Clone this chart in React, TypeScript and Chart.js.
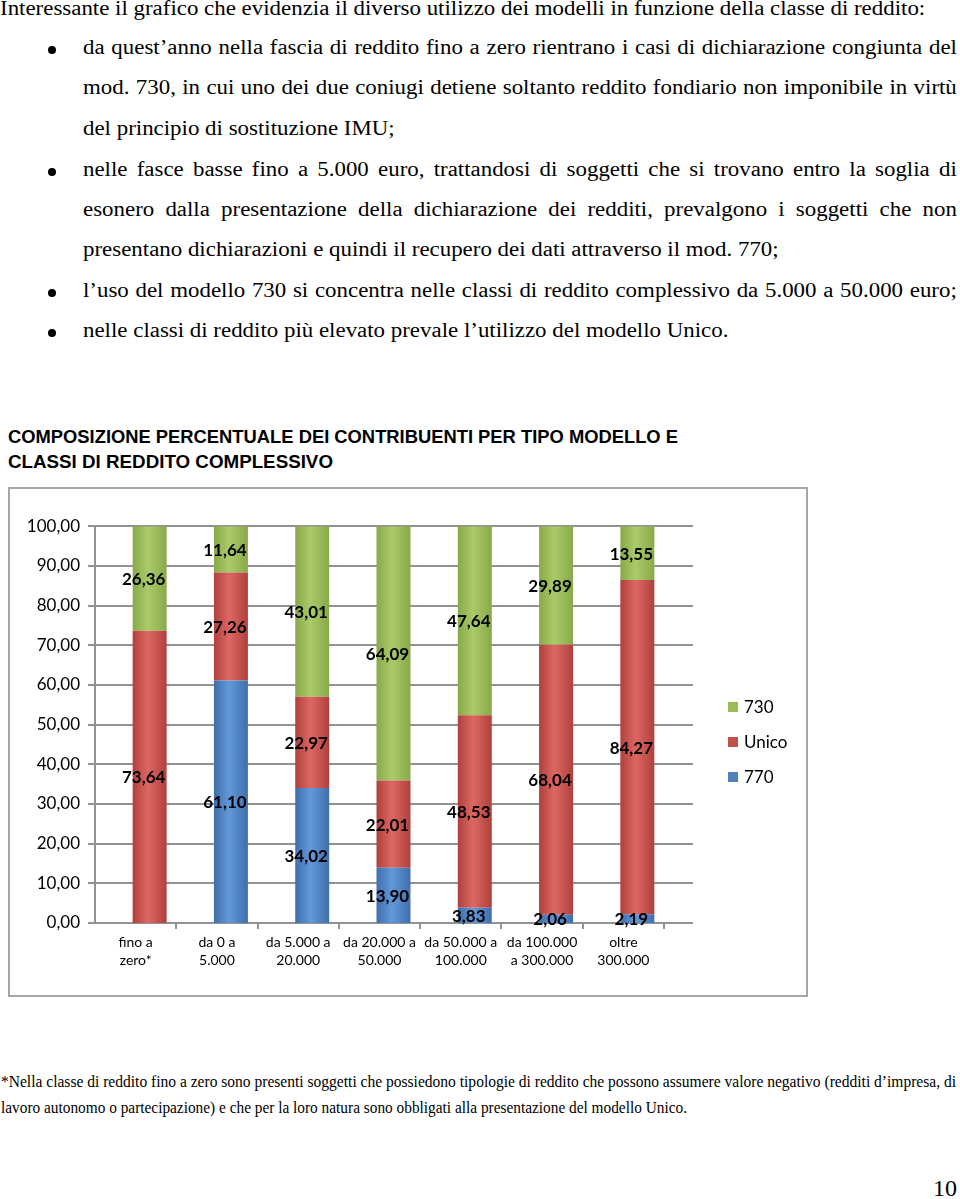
import React, { useEffect, useRef } from "react";
import { Chart, registerables } from "chart.js";
Chart.register(...registerables);

// ---------- DATA ----------
const categories: string[][] = [
  ["fino a", "zero*"],
  ["da 0 a", "5.000"],
  ["da 5.000 a", "20.000"],
  ["da 20.000 a", "50.000"],
  ["da 50.000 a", "100.000"],
  ["da 100.000", "a 300.000"],
  ["oltre", "300.000"],
];
const values770 = [0, 61.1, 34.02, 13.9, 3.83, 2.06, 2.19];
const valuesUnico = [73.64, 27.26, 22.97, 22.01, 48.53, 68.04, 84.27];
const values730 = [26.36, 11.64, 43.01, 64.09, 47.64, 29.89, 13.55];
const seriesNames = ["770", "Unico", "730"];
const yMin = 0;
const yMax = 100;
const yStep = 10;

// ---------- STYLE ----------
const edgeColors = ["#3f6ead", "#b0403c", "#88a947"];
const midColors = ["#6398d8", "#de6763", "#abcb6b"];
const solidColors = ["#4f81bd", "#c0504d", "#9bbb59"];
const BAR_HALF = 17;
const SHIFT = 14; // 3D-depth offset between front axis and bars

const fmt = (v: number) => v.toFixed(2).replace(".", ",");

function barFill(c: any, s: number) {
  const chart = c.chart;
  const xs = chart.scales && chart.scales.x;
  if (!chart.chartArea || !xs || c.dataIndex == null) return solidColors[s];
  const cx = xs.getPixelForValue(c.dataIndex);
  const g = chart.ctx.createLinearGradient(cx - BAR_HALF, 0, cx + BAR_HALF, 0);
  g.addColorStop(0, edgeColors[s]);
  g.addColorStop(0.45, midColors[s]);
  g.addColorStop(1, edgeColors[s]);
  return g;
}

const framePlugin = {
  id: "frame",
  beforeDraw(chart: any) {
    const { ctx, width, height } = chart;
    ctx.save();
    ctx.fillStyle = "#ffffff";
    ctx.fillRect(0, 0, width, height);
    ctx.strokeStyle = "#a6a6a6";
    ctx.lineWidth = 2;
    ctx.strokeRect(1, 1, width - 2, height - 2);
    ctx.restore();
  },
  beforeDatasetsDraw(chart: any) {
    const { ctx, chartArea } = chart;
    const { left, right, top, bottom } = chartArea;
    const ys = chart.scales.y;
    ctx.save();
    ctx.strokeStyle = "#929292";
    ctx.lineWidth = 2;
    ys.ticks.forEach((t: any) => {
      const y = Math.round(ys.getPixelForValue(t.value));
      ctx.beginPath();
      ctx.moveTo(left - SHIFT - 7, y);
      ctx.lineTo(right + 15, y);
      ctx.stroke();
    });
    ctx.beginPath();
    ctx.moveTo(left - SHIFT, top);
    ctx.lineTo(left - SHIFT, bottom);
    ctx.stroke();
    const n = chart.data.labels.length;
    const w = (right - left) / n;
    for (let i = 1; i <= n; i++) {
      const x = Math.round(left + w * i - SHIFT);
      ctx.beginPath();
      ctx.moveTo(x, bottom);
      ctx.lineTo(x, bottom + 6);
      ctx.stroke();
    }
    ctx.restore();
  },
  afterDatasetsDraw(chart: any) {
    const { ctx } = chart;
    ctx.save();
    ctx.font = "bold 17px Lato";
    ctx.fillStyle = "#000";
    ctx.textAlign = "center";
    ctx.textBaseline = "middle";
    chart.data.datasets.forEach((ds: any, di: number) => {
      const meta = chart.getDatasetMeta(di);
      meta.data.forEach((el: any, i: number) => {
        const v = ds.data[i];
        if (!v) return;
        const y = (el.y + el.base) / 2;
        ctx.fillText(fmt(v), el.x - 6, y + 1);
      });
    });
    // legend
    const items = chart.data.datasets
      .map((d: any, i: number) => ({ label: d.label, color: solidColors[i] }))
      .reverse();
    const lx = chart.chartArea.right + 50;
    ctx.textAlign = "left";
    ctx.font = "17px Lato";
    items.forEach((it: any, k: number) => {
      const cy = 220 + k * 35;
      ctx.fillStyle = it.color;
      ctx.fillRect(lx, cy - 5, 10, 10);
      ctx.fillStyle = "#000";
      ctx.fillText(it.label, lx + 16, cy + 1);
    });
    ctx.restore();
  },
};

function ChartBox() {
  const ref = useRef<HTMLCanvasElement>(null);
  useEffect(() => {
    const chart = new Chart(ref.current as HTMLCanvasElement, {
      type: "bar",
      data: {
        labels: categories,
        datasets: [values770, valuesUnico, values730].map((vals, s) => ({
          label: seriesNames[s],
          data: vals,
          backgroundColor: (c: any) => barFill(c, s),
          borderWidth: 0,
          barPercentage: 0.418,
          categoryPercentage: 1,
        })),
      },
      options: {
        animation: false,
        responsive: true,
        maintainAspectRatio: false,
        layout: { padding: { top: 34, right: 130, bottom: 0, left: 0 } },
        plugins: { legend: { display: false }, tooltip: { enabled: false } },
        scales: {
          x: {
            stacked: true,
            grid: { display: false, drawTicks: false },
            border: { display: false },
            ticks: {
              font: { family: "Lato", size: 14, lineHeight: 1.3 },
              color: "#000",
              labelOffset: -SHIFT,
              padding: 10,
              maxRotation: 0,
              autoSkip: false,
            },
            afterFit: (s: any) => {
              s.height = 74;
            },
          },
          y: {
            stacked: true,
            min: yMin,
            max: yMax,
            grid: { display: false, drawTicks: false },
            border: { display: false },
            ticks: {
              stepSize: yStep,
              font: { family: "Lato", size: 17 },
              color: "#000",
              padding: 29,
              callback: (v: any) => fmt(Number(v)),
            },
            afterFit: (s: any) => {
              s.width = 101;
            },
          },
        },
      },
      plugins: [framePlugin],
    } as any);
    return () => chart.destroy();
  }, []);
  return (
    <div style={{ position: "absolute", left: 8, top: 487, width: 800, height: 510 }}>
      <canvas ref={ref} />
    </div>
  );
}

// Body text (page layout, not chart data)
const STRETCH = 1.145;
const bodyLines = [
  { t: "Interessante il grafico che evidenzia il diverso utilizzo dei modelli in funzione della classe di reddito:", x: 0, b: 15, j: false, bullet: false },
  { t: "da quest’anno nella fascia di reddito fino a zero rientrano i casi di dichiarazione congiunta del", x: 83, b: 53.5, j: true, bullet: true },
  { t: "mod. 730, in cui uno dei due coniugi detiene soltanto reddito fondiario non imponibile in virtù", x: 83, b: 93.5, j: true, bullet: false },
  { t: "del principio di sostituzione IMU;", x: 83, b: 134.5, j: false, bullet: false },
  { t: "nelle fasce basse fino a 5.000 euro, trattandosi di soggetti che si trovano entro la soglia di", x: 83, b: 175.5, j: true, bullet: true },
  { t: "esonero dalla presentazione della dichiarazione dei redditi, prevalgono i soggetti che non", x: 83, b: 215.7, j: true, bullet: false },
  { t: "presentano dichiarazioni e quindi il recupero dei dati attraverso il mod. 770;", x: 83, b: 256, j: false, bullet: false },
  { t: "l’uso del modello 730 si concentra nelle classi di reddito complessivo da 5.000 a 50.000 euro;", x: 83, b: 296.7, j: true, bullet: true },
  { t: "nelle classi di reddito più elevato prevale l’utilizzo del modello Unico.", x: 83, b: 336.7, j: false, bullet: true },
];

export default function App() {
  return (
    <div
      style={{
        position: "absolute",
        left: 0,
        top: 0,
        width: 960,
        height: 1199,
        background: "#fff",
        overflow: "hidden",
        fontFamily: '"Liberation Serif", serif',
        color: "#000",
      }}
    >
      {bodyLines.map((l, i) => (
        <React.Fragment key={i}>
          {l.bullet && (
            <div
              style={{
                position: "absolute",
                left: 48,
                top: l.b - 7.5,
                width: 8,
                height: 8,
                borderRadius: "50%",
                background: "#000",
              }}
            />
          )}
          <div
            style={{
              position: "absolute",
              left: l.x,
              top: l.b - 26.75,
              width: l.j ? (957 - l.x) / STRETCH : undefined,
              fontSize: 20,
              lineHeight: "40px",
              whiteSpace: "nowrap",
              display: l.j ? "flex" : "block",
              justifyContent: l.j ? "space-between" : undefined,
              transform: `scaleX(${STRETCH})`,
              transformOrigin: "0 0",
            }}
          >
            {l.j ? l.t.split(" ").map((w, k) => <span key={k}>{w}</span>) : l.t}
          </div>
        </React.Fragment>
      ))}

      <svg style={{ position: "absolute", left: 0, top: 420 }} width={960} height={60}>
        <text x={8} y={23} fontFamily='"Liberation Sans", Arial' fontWeight="bold" fontSize={19} textLength={670} lengthAdjust="spacingAndGlyphs">
          COMPOSIZIONE PERCENTUALE DEI CONTRIBUENTI PER TIPO MODELLO E
        </text>
        <text x={8} y={48} fontFamily='"Liberation Sans", Arial' fontWeight="bold" fontSize={19} textLength={325} lengthAdjust="spacingAndGlyphs">
          CLASSI DI REDDITO COMPLESSIVO
        </text>
      </svg>

      <ChartBox />

      <svg style={{ position: "absolute", left: 0, top: 1060 }} width={960} height={139}>
        <text x={1} y={27} fontFamily='"Liberation Serif", serif' fontSize={16} textLength={955} lengthAdjust="spacingAndGlyphs">
          *Nella classe di reddito fino a zero sono presenti soggetti che possiedono tipologie di reddito che possono assumere valore negativo (redditi d’impresa, di
        </text>
        <text x={1} y={53} fontFamily='"Liberation Serif", serif' fontSize={16} textLength={686} lengthAdjust="spacingAndGlyphs">
          lavoro autonomo o partecipazione) e che per la loro natura sono obbligati alla presentazione del modello Unico.
        </text>
        <text x={933} y={136} fontFamily='"Liberation Serif", serif' fontSize={24}>
          10
        </text>
      </svg>
    </div>
  );
}
